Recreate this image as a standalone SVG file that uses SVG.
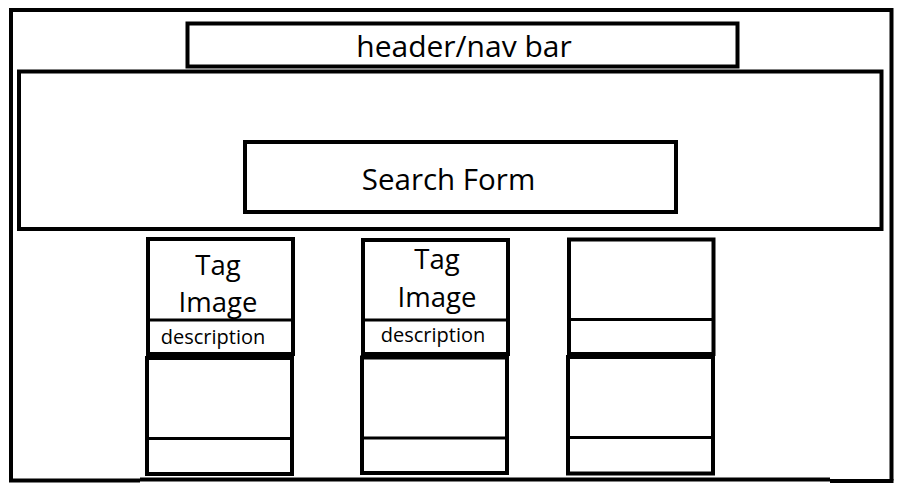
<svg xmlns="http://www.w3.org/2000/svg" width="905" height="498" viewBox="0 0 905 498">
<style>
.b{fill:none;stroke:#000;stroke-width:4}
.d{stroke:#000;stroke-width:3}
.t{font-family:"Open Sans","Noto Sans",sans-serif;fill:#000;text-anchor:middle}
</style>
<rect width="905" height="498" fill="#fff"/>
<g id="frame">
<path class="b" d="M11,480.5 V10 H891.5 V480.5"/>
<path class="b" d="M9,480.5 H140"/>
<path class="b" d="M140,479.5 H830"/>
<path class="b" d="M830,481 H893.5"/>
</g>
<g id="header">
<rect class="b" x="187.5" y="23.5" width="550" height="43" stroke-width="3.5"/>
<text class="t" x="464" y="57" font-size="30">header/nav bar</text>
</g>
<g id="hero">
<rect class="b" x="19" y="71.5" width="862.5" height="157.5"/>
</g>
<g id="search">
<rect class="b" x="245" y="142" width="431" height="70"/>
<text class="t" x="448.5" y="190" font-size="29.5">Search Form</text>
</g>
<g id="card1">
<rect class="b" x="148" y="239" width="145" height="115"/>
<line class="d" x1="148" y1="320" x2="293" y2="320"/>
<text class="t" x="218" y="275" font-size="27.5">Tag</text>
<text class="t" x="218" y="312" font-size="27.5">Image</text>
<text class="t" x="213" y="344" font-size="20">description</text>
</g>
<g id="card2">
<rect class="b" x="363" y="240" width="145" height="114"/>
<line class="d" x1="363" y1="320" x2="508" y2="320"/>
<text class="t" x="437" y="269" font-size="27.5">Tag</text>
<text class="t" x="437" y="307" font-size="27.5">Image</text>
<text class="t" x="433" y="342" font-size="20">description</text>
</g>
<g id="card3">
<rect class="b" x="569" y="239.5" width="144.5" height="114.5"/>
<line class="d" x1="569" y1="319.5" x2="713.5" y2="319.5"/>
</g>
<g id="card4">
<rect class="b" x="147" y="358" width="145" height="116"/>
<line class="d" x1="147" y1="438.5" x2="292" y2="438.5"/>
</g>
<g id="card5">
<rect class="b" x="362" y="357.5" width="145" height="115.5"/>
<line class="d" x1="362" y1="438" x2="507" y2="438"/>
</g>
<g id="card6">
<rect class="b" x="568" y="357" width="145" height="116.5"/>
<line class="d" x1="568" y1="437.5" x2="713" y2="437.5"/>
</g>
<g id="connectors"></g>
</svg>
